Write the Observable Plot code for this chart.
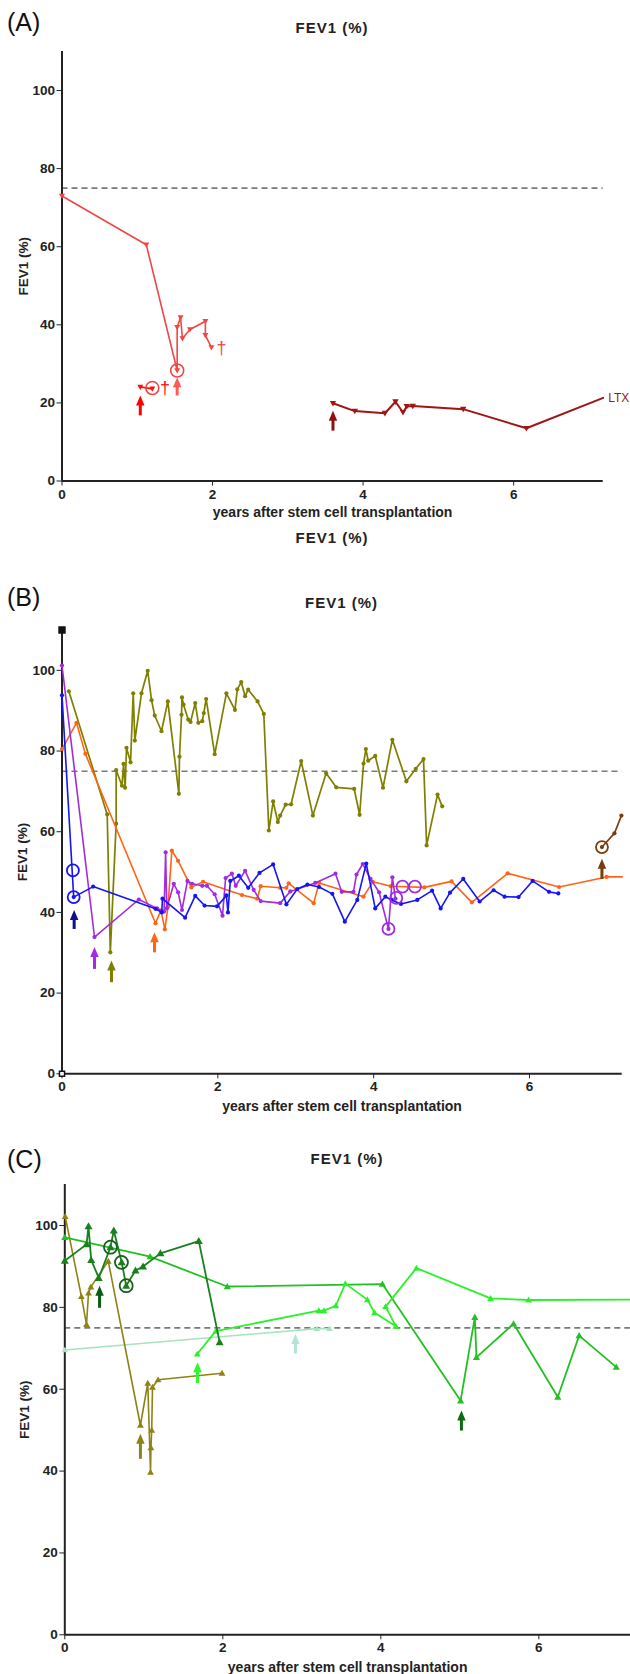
<!DOCTYPE html>
<html><head><meta charset="utf-8">
<script src="https://cdn.jsdelivr.net/npm/d3@7"></script>
<script src="https://cdn.jsdelivr.net/npm/@observablehq/plot@0.6"></script>
<style>
body{margin:0;background:#fff;}
#root{position:relative;width:630px;height:1674px;overflow:hidden;font-family:"Liberation Sans",Arial,sans-serif;background:#fff;}
.letter{position:absolute;left:7px;font-size:25px;color:#111;line-height:1;}
.title{position:absolute;font-weight:bold;font-size:15px;letter-spacing:1px;color:#222;transform:translate(-50%,-50%);white-space:nowrap;line-height:1;}
.panel{position:absolute;left:0;}
</style></head><body><div id="root"></div>
<script>
// ---------- shared ticks / labels ----------
const yTicks = [0, 20, 40, 60, 80, 100];
const xTicks = [0, 2, 4, 6];
const titleText = "FEV1 (%)";
const xLabel = "years after stem cell transplantation";

// ---------- Panel A ----------
const aMain = [[0,73.0],[1.12,60.5],[1.53,28.3],[1.53,39.4],[1.575,41.9],[1.60,36.5],[1.70,38.8],[1.905,40.9],[1.905,37.3],[1.985,34.2]];
const aRed = [[1.04,24.1],[1.20,23.6]];
const aDark = [[3.60,19.9],[3.89,17.9],[4.29,17.35],[4.43,20.3],[4.53,17.6],[4.58,19.1],[4.66,19.2],[5.33,18.4],[6.17,13.5]];
const aDarkEnd = [[6.17,13.5],[7.19,21.3]];
const aDeaths = [[1.37,23.7],[2.12,34.0]];
const aCircles = [[1.20,23.8],[1.53,28.3]];
const aArrows = [[1.04,16.8,21.9],[1.53,21.9,26.6],[3.60,12.9,18.0]];
const aNote = "LTX";

// ---------- Panel B ----------
const bBlue = [[0,93.8],[0.15,43.8],[0.40,46.4],[1.20,40.9],[1.28,40.0],[1.29,43.4],[1.58,38.7],[1.71,44.1],[1.83,41.7],[1.99,41.5],[2.11,44.2],[2.13,40.0],[2.16,47.8],[2.27,49.1],[2.39,46.1],[2.535,49.8],[2.71,51.9],[2.88,42.0],[3.02,45.8],[3.15,46.9],[3.30,46.3],[3.47,44.6],[3.63,37.7],[3.79,43.1],[3.905,52.1],[4.02,41.0],[4.15,43.9],[4.23,43.1],[4.35,42.1],[4.56,43.1],[4.75,45.4],[4.86,41.0],[4.98,44.9],[5.15,48.3],[5.36,42.7],[5.54,45.5],[5.68,43.9],[5.86,43.8],[6.04,47.8],[6.25,45.1],[6.37,44.7]];
const bPurple = [[0,101.2],[0.417,33.9],[0.986,43.2],[1.22,41.0],[1.31,40.2],[1.33,54.9],[1.345,41.0],[1.435,47.1],[1.49,45.0],[1.54,40.6],[1.61,47.8],[1.67,47.1],[1.80,46.6],[1.86,46.6],[1.96,44.5],[2.06,39.2],[2.10,48.5],[2.18,49.6],[2.23,46.6],[2.35,50.3],[2.46,45.6],[2.55,42.8],[2.80,42.3],[2.93,45.2],[3.25,47.3],[3.51,49.6],[3.59,45.1],[3.74,45.1],[3.78,49.4],[3.86,52.0],[3.96,48.3],[4.07,45.0],[4.19,35.9],[4.24,48.7],[4.28,43.4]];
const bOrange = [[0,80.5],[0.186,87.0],[0.30,79.3],[1.20,37.3],[1.27,40.5],[1.32,35.8],[1.36,41.4],[1.41,55.3],[1.49,52.8],[1.66,46.2],[1.81,47.6],[2.31,44.3],[2.505,43.4],[2.55,46.5],[2.80,46.1],[2.88,46.1],[2.91,47.2],[3.23,42.3],[3.30,47.3],[3.87,43.9],[3.99,47.6],[4.22,46.5],[4.65,46.2],[5.00,47.7],[5.26,42.5],[5.72,49.7],[6.38,46.3],[6.99,48.8]];
const bOrangeEnd = [[6.99,48.8],[7.19,48.8]];
const bOlive = [[0.088,94.8],[0.58,64.3],[0.62,30.1],[0.695,62.0],[0.695,75.3],[0.77,71.4],[0.79,76.8],[0.81,70.9],[0.828,80.8],[0.88,77.2],[0.914,94.3],[0.935,82.6],[1.02,94.3],[1.10,99.9],[1.149,92.6],[1.19,88.8],[1.277,84.9],[1.358,92.3],[1.50,69.4],[1.508,78.6],[1.534,89.0],[1.54,93.3],[1.56,91.5],[1.62,87.8],[1.65,87.2],[1.71,91.9],[1.75,87.0],[1.80,87.4],[1.82,89.4],[1.85,92.9],[1.96,79.2],[2.11,94.3],[2.22,90.2],[2.25,95.3],[2.30,97.1],[2.35,93.6],[2.39,95.2],[2.51,92.3],[2.59,89.2],[2.655,60.3],[2.71,67.5],[2.77,62.4],[2.80,64.0],[2.87,66.7],[2.94,66.8],[3.07,77.5],[3.22,64.0],[3.39,74.5],[3.52,71.0],[3.75,70.6],[3.82,64.2],[3.87,76.9],[3.90,80.5],[3.93,77.6],[4.02,78.8],[4.12,70.9],[4.24,82.8],[4.42,72.5],[4.54,75.6],[4.64,78.0],[4.68,56.6],[4.82,69.2],[4.88,66.3]];
const bBrown = [[6.93,56.2],[7.09,59.6],[7.18,64.0]];
const bCirclesBlue = [[0.14,50.4],[0.15,43.8]];
const bCirclesPurple = [[4.19,35.9],[4.29,43.6],[4.37,46.4],[4.53,46.4]];
const bCirclesBrown = [[6.93,56.2]];
const bArrows = [[0.156,35.9,40.6],[0.417,26.0,31.4],[0.635,22.7,28.1],[1.187,30.1,35.1],[6.93,48.3,53.3]];
const bCorners = [[0,110],[0,0]];

// ---------- Panel C ----------
const cOlive = [[0.005,102.2],[0.21,82.7],[0.275,75.8],[0.30,83.5],[0.33,85.0],[0.55,91.3],[0.957,51.2],[1.05,61.5],[1.085,39.7],[1.09,45.7],[1.10,50.0],[1.11,60.5],[1.18,62.3],[1.99,63.9]];
const cDark = [[0,91.4],[0.275,95.4],[0.30,99.8],[0.334,91.6],[0.43,87.2],[0.578,94.7],[0.62,98.8],[0.72,91.0],[0.777,85.3],[0.895,89.0],[0.99,90.0],[1.21,93.2],[1.696,96.2],[1.96,71.5]];
const cMid = [[0,97.1],[1.08,92.4],[2.056,85.1],[4.02,85.7],[5.01,57.2],[5.19,77.6],[5.21,67.8],[5.68,76.0],[6.24,58.1],[6.51,73.1],[6.98,65.4]];
const cBright = [[1.676,68.6],[1.91,74.2],[3.215,79.2],[3.28,79.2],[3.43,80.4],[3.55,85.8],[3.83,81.9],[3.92,78.7],[4.19,75.4],[4.06,80.2],[4.45,89.6],[5.39,82.2],[5.87,81.8]];
const cBrightEnd = [[5.87,81.8],[7.16,81.9]];
const cPale = [[0,69.6],[3.19,74.8],[3.35,74.8]];
const cCircles = [[0.578,94.7],[0.717,91.0],[0.777,85.3]];
const cArrows = [[0.957,43.0,49.1],[0.44,79.9,85.3],[1.68,61.5,66.6],[2.92,68.7,73.5],[5.02,49.9,54.8]];

// ---------- styles ----------
const colA = {main:"#f04646", red:"#ff1010", dark:"#9e1616", arrows:["#ff0000","#ff5a5a","#8e1010"]};
const colB = {blue:"#1414f5", purple:"#a22be0", orange:"#ff6414", olive:"#7f7f00", brown:"#7a3c0c", arrows:["#10108a","#a22be0","#7f7f00","#ff6414","#7a3c0c"]};
const colC = {olive:"#8e8214", dark:"#18801c", mid:"#22c022", bright:"#2cf02c", pale:"#a8e2c0", ring:"#1a5e1e", arrows:["#8e8214","#0c5c10","#2cf82c","#b2e6d2","#0c6a10"]};

const tickFont = '"Liberation Sans Narrow","Liberation Sans",Arial,sans-serif';
const labelFont = '"Liberation Sans",Arial,sans-serif';

// ---------- symbols ----------
const triDown = {draw(c,s){const r=Math.sqrt(s/Math.PI);c.moveTo(0,r);c.lineTo(r,-r*0.75);c.lineTo(-r,-r*0.75);c.closePath();}};
const triUp = {draw(c,s){const r=Math.sqrt(s/Math.PI);c.moveTo(0,-r);c.lineTo(r,r*0.75);c.lineTo(-r,r*0.75);c.closePath();}};
const head = {draw(c,s){const r=Math.sqrt(s/Math.PI);c.moveTo(0,0);c.lineTo(r*0.85,r*2);c.lineTo(-r*0.85,r*2);c.closePath();}};

const pts = a => a.map(([x,y]) => ({x, y}));
function series(a, color, sym, r, sw = 1.6) {
  const d = pts(a);
  return [
    Plot.line(d, {x: "x", y: "y", stroke: color, strokeWidth: sw}),
    Plot.dot(d, {x: "x", y: "y", symbol: sym, r, fill: color, stroke: "none"})
  ];
}
function rings(a, color, r = 6.5, sw = 1.8) {
  return Plot.dot(pts(a), {x: "x", y: "y", r, stroke: color, strokeWidth: sw, fill: "none"});
}
function arrows(list, colors, r = 5) {
  const d = list.map(([x, y1, y2], i) => ({x, y1, y2, ym: y2 - (y2 - y1) * 0.35, c: colors[i]}));
  return [
    Plot.link(d, {x1: "x", x2: "x", y1: "y1", y2: "ym", stroke: "c", strokeWidth: 3}),
    Plot.dot(d, {x: "x", y: "y2", symbol: head, r, fill: "c", stroke: "none"})
  ];
}
function frameMarks(ylabDx, xlabDy) {
  return [
    Plot.ruleY([75], {stroke: "#7a7a7a", strokeWidth: 1.6, strokeDasharray: "6,4"}),
    Plot.axisX({ticks: xTicks, tickSize: 5, tickPadding: 3, label: null, fontFamily: tickFont, fontSize: 13.5, fontWeight: "bold"}),
    Plot.axisY({ticks: yTicks, tickSize: 5, tickPadding: 2, label: null, fontFamily: tickFont, fontSize: 13.5, fontWeight: "bold"}),
    Plot.ruleX([0], {y1: 0, y2: 110, stroke: "#222", strokeWidth: 2}),
    Plot.ruleY([0], {stroke: "#222", strokeWidth: 2}),
    Plot.text([xLabel], {text: d => d, frameAnchor: "bottom", textAnchor: "middle", lineAnchor: "middle", dy: xlabDy, fontSize: 14, fontWeight: "bold", fontFamily: labelFont, fill: "#222"}),
    Plot.text([titleText], {text: d => d, frameAnchor: "left", textAnchor: "middle", lineAnchor: "middle", dx: ylabDx, rotate: -90, fontSize: 13.5, fontWeight: "bold", fontFamily: labelFont, fill: "#222"})
  ];
}
function makePlot(o, marks) {
  return Plot.plot({
    width: 630, height: o.h,
    marginTop: o.mt, marginBottom: o.mb, marginLeft: o.ml, marginRight: o.mr,
    x: {domain: [0, o.xmax]},
    y: {domain: [0, 110]},
    color: {type: "identity"},
    style: {fontFamily: labelFont, fontSize: "13px", color: "#222", background: "transparent", overflow: "visible"},
    marks
  });
}

const root = document.getElementById("root");
function addText(cls, txt, css) {
  const el = document.createElement("div");
  el.className = cls; el.textContent = txt;
  Object.assign(el.style, css);
  root.appendChild(el);
}
function addPlot(svg, top) {
  const w = document.createElement("div");
  w.className = "panel"; w.style.top = top + "px";
  w.appendChild(svg); root.appendChild(w);
}

// ---------- Panel A ----------
addText("letter", "(A)", {top: "10px"});
addText("title", titleText, {left: "332px", top: "27px"});
addPlot(makePlot({h: 480, mt: 11, mb: 39.5, ml: 61.5, mr: 27.3, xmax: 7.19}, [
  ...frameMarks(-38.5, 31.2),
  Plot.line(pts(aDarkEnd), {x: "x", y: "y", stroke: colA.dark, strokeWidth: 2}),
  ...series(aMain, colA.main, triDown, 3, 1.6),
  ...series(aRed, colA.red, triDown, 3, 1.6),
  ...series(aDark, colA.dark, triDown, 3.2, 2),
  rings(aCircles, colA.main, 6.5, 1.6),
  Plot.text(pts(aDeaths), {x: "x", y: "y", text: () => "\u2020", fill: (d, i) => i === 0 ? colA.red : colA.main, fontSize: 18, fontWeight: "normal", fontFamily: labelFont}),
  Plot.text([{x: aDarkEnd[1][0], y: aDarkEnd[1][1], t: aNote}], {x: "x", y: "y", text: "t", dx: 5, textAnchor: "start", fill: colA.dark, fontSize: 12, fontWeight: "normal", fontFamily: labelFont}),
  ...arrows(aArrows, colA.arrows)
]), 40);
addText("title", titleText, {left: "332px", top: "537px"});

// ---------- Panel B ----------
addText("letter", "(B)", {top: "585px"});
addText("title", titleText, {left: "341.6px", top: "602px"});
addPlot(makePlot({h: 500, mt: 14.5, mb: 41.7, ml: 61.5, mr: 8.3, xmax: 7.19}, [
  ...frameMarks(-39.5, 32.7),
  ...series(bOlive, colB.olive, "circle", 2.1, 1.7),
  Plot.line(pts(bOrangeEnd), {x: "x", y: "y", stroke: colB.orange, strokeWidth: 1.6}),
  ...series(bOrange, colB.orange, "circle", 2.1, 1.6),
  ...series(bPurple, colB.purple, "circle", 2.1, 1.6),
  ...series(bBlue, colB.blue, "circle", 2.1, 1.6),
  ...series(bBrown, colB.brown, "circle", 2.1, 1.6),
  rings(bCirclesBlue, colB.blue, 6, 1.8),
  rings(bCirclesPurple, colB.purple, 6, 1.8),
  rings(bCirclesBrown, colB.brown, 6, 1.8),
  ...arrows(bArrows, colB.arrows),
  Plot.dot(pts(bCorners), {x: "x", y: "y", symbol: "square", r: [4, 3], fill: ["#111", "#fff"], stroke: "#111", strokeWidth: 1.5})
]), 615);

// ---------- Panel C ----------
addText("letter", "(C)", {top: "1147px"});
addText("title", titleText, {left: "347px", top: "1158px"});
addPlot(makePlot({h: 499, mt: 9.1, mb: 39.7, ml: 64.3, mr: 0, xmax: 7.16}, [
  ...frameMarks(-40, 32.7),
  ...series(cPale, colC.pale, triUp, 3.2, 1.6),
  ...series(cOlive, colC.olive, triUp, 3.4, 1.6),
  ...series(cMid, colC.mid, triUp, 3.6, 1.8),
  Plot.line(pts(cBrightEnd), {x: "x", y: "y", stroke: colC.bright, strokeWidth: 1.8}),
  ...series(cBright, colC.bright, triUp, 3.4, 1.8),
  ...series(cDark, colC.dark, triUp, 4, 1.8),
  rings(cCircles, colC.ring, 6.5, 1.8),
  ...arrows(cArrows, colC.arrows)
]), 1175);
</script></body></html>
